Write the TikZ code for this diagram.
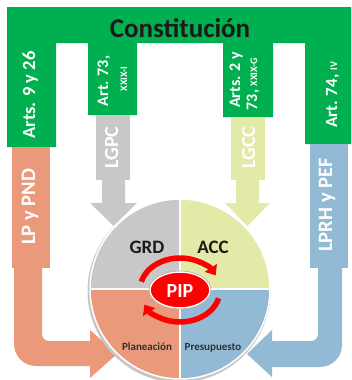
\documentclass[tikz,border=0pt]{standalone}
\usepackage{fontspec}
\setmainfont{Carlito}
\usetikzlibrary{arrows.meta,shapes.geometric}
\definecolor{cgreen}{RGB}{0,176,80}
\definecolor{csalmon}{RGB}{234,153,123}
\definecolor{cblue}{RGB}{146,186,213}
\definecolor{cgray}{RGB}{200,200,200}
\definecolor{cyell}{RGB}{227,233,167}
\definecolor{cdark}{RGB}{26,26,26}
\definecolor{cred}{RGB}{255,0,0}
\newcommand{\fsz}[1]{\fontsize{#1}{#1}\selectfont}
\begin{document}
\begin{tikzpicture}[x=1pt,y=-1pt,
  every node/.style={inner sep=0pt, outer sep=0pt},
  coltext/.style={rotate=90, anchor=base, text=white, font=\bfseries},
  quadtext/.style={anchor=base, text=cdark, font={\bfseries\fsz{19}}},
  smalltext/.style={anchor=base, text=cdark!90, font={\bfseries\fsz{11}}},
  redarc/.style={draw=cred, line width=5.5pt, -{Triangle[width=14pt,length=9pt]}}]
\useasboundingbox (0,0) rectangle (351,380);

% green frame
\fill[cgreen] (7,7) -- (351,7) -- (351,144) -- (305,144) -- (305,43) -- (273,43) -- (273,117) -- (223,117) -- (223,43) -- (137,43) -- (137,115) -- (88,115) -- (88,43) -- (56,43) -- (56,147) -- (7,147) -- cycle;
\node[anchor=base, text=cdark, font={\bfseries\fsz{27}}] (const) at (180,37) {Constitución};
\node[coltext, font={\bfseries\fsz{18.5}}] (c1) at (35,95) {Arts. 9 y 26};
\node[coltext, font={\bfseries\fsz{16}}] (c2a) at (108,81) {Art. 73,};
\node[coltext, font={\bfseries\fsz{10}}] (c2b) at (127,79) {XXIX-I};
\node[coltext, font={\bfseries\fsz{16}}] (c3a) at (240,80) {Arts. 2 y};
\node[coltext, font={\bfseries\fsz{16}}] (c3b) at (257,84) {73, {\fsz{10}XXIX-G}};
\node[coltext, font={\bfseries\fsz{17}}] (c4) at (337,95) {Art. 74, {\fsz{10}IV}};

% gray arrow
\fill[cgray] (102,150) -- (125,150) -- (125,203) -- (137,203) -- (113.5,226) -- (90,203) -- (102,203) -- cycle;
\fill[cgray] (96,115) rectangle (130,180);
\node[coltext, font={\bfseries\fsz{20}}] (lgpc) at (118,147.5) {LGPC};

% yellow arrow
\fill[cyell] (236,150) -- (259,150) -- (259,203) -- (270,203) -- (247.5,226) -- (225,203) -- (236,203) -- cycle;
\fill[cyell] (231,117) rectangle (265,180);
\node[coltext, font={\bfseries\fsz{20}}] (lgcc) at (255,147.5) {LGCC};

% salmon U arrow
\fill[csalmon] (14,200) -- (14,344) arc[start angle=180, end angle=90, radius=22] -- (90,366) -- (90,378) -- (117,354) -- (90,330) -- (90,341) -- (49,341) arc[start angle=90, end angle=180, radius=7] -- (42,200) -- cycle;
\fill[csalmon] (12,147) rectangle (50,268);
\node[coltext, font={\bfseries\fsz{20.5}}] (lp) at (35,207) {LP y PND};

% blue U arrow
\fill[cblue] (342,200) -- (342,345) arc[start angle=0, end angle=90, radius=22] -- (272,367) -- (272,377) -- (247,354) -- (272,330) -- (272,341) -- (311,341) arc[start angle=90, end angle=0, radius=7] -- (318,200) -- cycle;
\fill[cblue] (310,144) rectangle (348,268);
\node[coltext, font={\bfseries\fsz{20.5}}] (lprh) at (332,205) {LPRH y PEF};

% circle
\fill[black!22] (179,291) circle[radius=91.5];
\fill[cgray] (180,289) -- (90,289) arc[start angle=180, end angle=270, radius=90] -- cycle;
\fill[cyell] (180,289) -- (180,199) arc[start angle=270, end angle=360, radius=90] -- cycle;
\fill[cblue] (180,289) -- (270,289) arc[start angle=0, end angle=90, radius=90] -- cycle;
\fill[csalmon] (180,289) -- (180,379) arc[start angle=90, end angle=180, radius=90] -- cycle;
\draw[white, line width=1.5pt] (90,289) -- (270,289) (180,199) -- (180,379);
\draw[white, line width=1.5pt] (180,289) circle[radius=90];

\node[quadtext] (grd) at (147,253) {GRD};
\node[quadtext] (acc) at (213,253) {ACC};
\node[smalltext] (plan) at (147,350) {Planeación};
\node[smalltext] (pres) at (213,350) {Presupuesto};

% red circular arrows
\draw[redarc] (180,290) ++(195:40 and 32) arc[start angle=195, end angle=333, x radius=40, y radius=32];
\draw[redarc] (180,290) ++(15:40 and 32) arc[start angle=15, end angle=153, x radius=40, y radius=32];

\node[ellipse, fill=cred, draw=white, line width=1.5pt, minimum width=60pt, minimum height=36pt] (pipe) at (180,290) {};
\draw[black!30, line width=0.6pt] (180,290) ellipse[x radius=31, y radius=19];
\node[anchor=base, text=white, font={\bfseries\fsz{20}}] (pip) at (180,297) {PIP};
\end{tikzpicture}
\end{document}
